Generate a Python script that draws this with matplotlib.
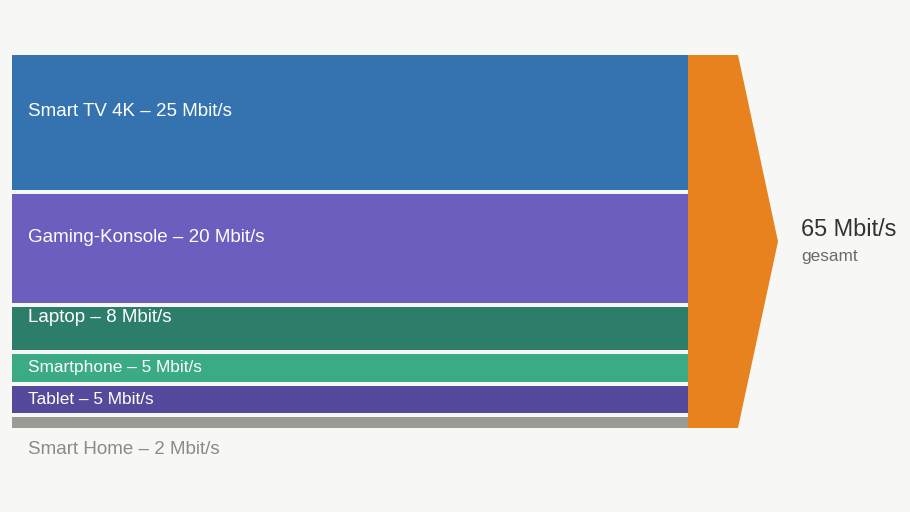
import matplotlib
matplotlib.use("Agg")
import matplotlib.pyplot as plt

devices = ["Smart TV 4K", "Gaming-Konsole", "Laptop", "Smartphone", "Tablet", "Smart Home"]
speeds = [25, 20, 8, 5, 5, 2]
colors = ["#3473b0", "#6a5fbf", "#2c7d69", "#3bab86", "#534a9b", "#9b9b95"]
total_label = "65 Mbit/s"
total_sub = "gesamt"

plt.rcParams['font.family'] = ['Liberation Sans', 'DejaVu Sans']

bg = "#f7f7f5"
gap = 0.8
px = 373 / (sum(speeds) + gap * (len(speeds) - 1))   # pixels per unit

fig = plt.figure(figsize=(9.1, 5.12), dpi=100, facecolor=bg)
ax = fig.add_axes([0, 0, 1, 1])
ax.set_facecolor(bg)
ax.axis("off")
ax.set_xlim(0, 910)
span = sum(speeds) + gap * (len(speeds) - 1)
ax.set_ylim(span + (512 - 428) / px, -55 / px)

bar_left, bar_len = 12, 676
y = 0
for i, (name, v) in enumerate(zip(devices, speeds)):
    ax.barh(y + v / 2, bar_len, height=v, left=bar_left, color=colors[i], edgecolor="none")
    label = f"{name} – {v} Mbit/s"
    if i == len(speeds) - 1:
        ax.text(28, y + v + 21 / px, label, color="#8a8a8a", fontsize=13.5, va="center")
    else:
        ly = y + v / 2 - (2 if v >= 8 else 0)
        fs = 13.5 if v >= 8 else 12.4
        ax.text(28, ly, label, color="white", fontsize=fs, va="center")
    y += v + gap

# orange arrow of the total
x0 = bar_left + bar_len
ax.fill([x0, x0 + 50, x0 + 90, x0 + 50, x0], [0, 0, span / 2, span, span],
        color="#e8821e", edgecolor="none")

ax.text(801, span / 2 - 12 / px, total_label, color="#333333", fontsize=16.9, va="center")
ax.text(801, span / 2 + 15 / px, total_sub, color="#6b6b6b", fontsize=12.4, va="center")

fig.savefig("out.png", dpi=100, facecolor=bg)
